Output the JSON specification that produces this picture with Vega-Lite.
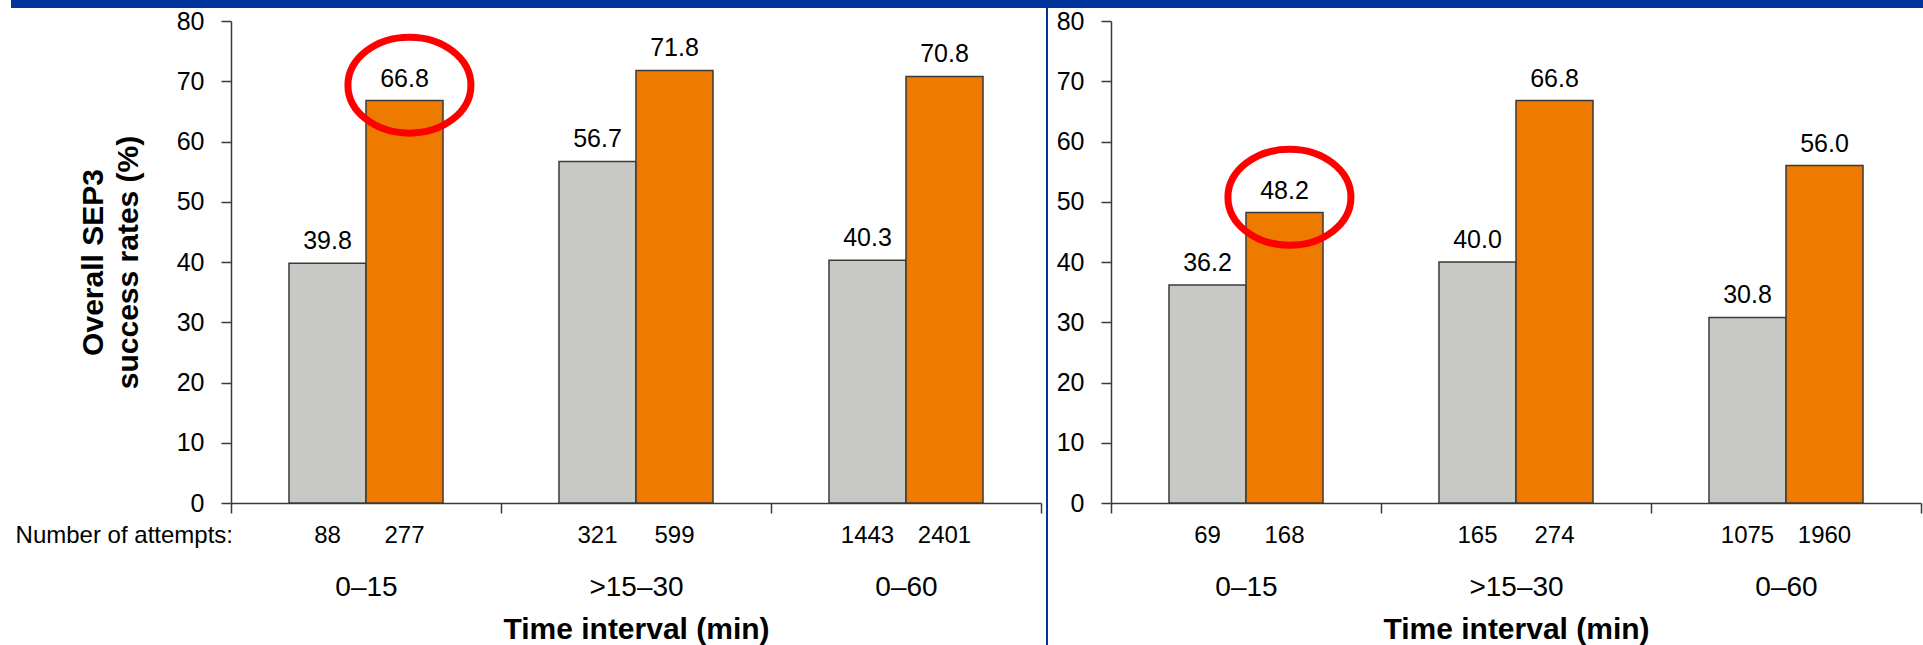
{
  "$schema": "https://vega.github.io/schema/vega-lite/v6.json",
  "background": "white",
  "padding": {"left": 7, "top": 0, "right": 0, "bottom": 0},
  "bounds": "flush",
  "spacing": 70,
  "datasets": {
    "sep3": [
      {"panel": "L", "interval": "0–15", "group": "A", "rate": 39.8, "attempts": 88, "highlight": false},
      {"panel": "L", "interval": "0–15", "group": "B", "rate": 66.8, "attempts": 277, "highlight": true},
      {"panel": "L", "interval": ">15–30", "group": "A", "rate": 56.7, "attempts": 321, "highlight": false},
      {"panel": "L", "interval": ">15–30", "group": "B", "rate": 71.8, "attempts": 599, "highlight": false},
      {"panel": "L", "interval": "0–60", "group": "A", "rate": 40.3, "attempts": 1443, "highlight": false},
      {"panel": "L", "interval": "0–60", "group": "B", "rate": 70.8, "attempts": 2401, "highlight": false},
      {"panel": "R", "interval": "0–15", "group": "A", "rate": 36.2, "attempts": 69, "highlight": false},
      {"panel": "R", "interval": "0–15", "group": "B", "rate": 48.2, "attempts": 168, "highlight": true},
      {"panel": "R", "interval": ">15–30", "group": "A", "rate": 40.0, "attempts": 165, "highlight": false},
      {"panel": "R", "interval": ">15–30", "group": "B", "rate": 66.8, "attempts": 274, "highlight": false},
      {"panel": "R", "interval": "0–60", "group": "A", "rate": 30.8, "attempts": 1075, "highlight": false},
      {"panel": "R", "interval": "0–60", "group": "B", "rate": 56.0, "attempts": 1960, "highlight": false}
    ],
    "rowLabel": [{"label": "Number of attempts:"}]
  },
  "config": {
    "font": "Liberation Sans",
    "view": {"stroke": null},
    "text": {"color": "#000000"},
    "axis": {
      "grid": false,
      "domainColor": "#3a3a3a",
      "tickColor": "#3a3a3a",
      "domainWidth": 1.5,
      "tickWidth": 1.5,
      "tickSize": 10,
      "labelColor": "#000000",
      "titleColor": "#000000",
      "titleFont": "Liberation Sans",
      "titleFontWeight": "bold",
      "titleFontSize": 30
    },
    "axisX": {
      "tickBand": "extent",
      "labelAngle": 0,
      "labelFontSize": 28,
      "labelPadding": 60,
      "titlePadding": 13
    },
    "axisY": {
      "labelFontSize": 25,
      "labelPadding": 17,
      "titlePadding": 33,
      "titleLineHeight": 35
    }
  },
  "hconcat": [
    {
      "width": 810,
      "height": 482,
      "layer": [
        {
          "data": {"name": "sep3"},
          "transform": [{"filter": "datum.panel === 'L'"}],
          "encoding": {
            "x": {
              "field": "interval", "type": "nominal", "sort": null,
              "scale": {"paddingInner": 0, "paddingOuter": 0},
              "axis": {"title": "Time interval (min)"}
            },
            "xOffset": {
              "field": "group", "type": "nominal",
              "scale": {"paddingInner": 0, "paddingOuter": 0.753}
            }
          },
          "layer": [
            {
              "mark": {"type": "bar", "stroke": "#3a3a3a", "strokeWidth": 1.5},
              "encoding": {
                "y": {
                  "field": "rate", "type": "quantitative",
                  "scale": {"domain": [0, 80]},
                  "axis": {"values": [0, 10, 20, 30, 40, 50, 60, 70, 80], "title": ["Overall SEP3", "success rates (%)"]}
                },
                "color": {
                  "field": "group", "type": "nominal",
                  "scale": {"domain": ["A", "B"], "range": ["#c8c9c5", "#ee7b00"]},
                  "legend": null
                }
              }
            },
            {
              "mark": {"type": "text", "baseline": "alphabetic", "dy": -14, "fontSize": 25},
              "encoding": {
                "y": {"field": "rate", "type": "quantitative"},
                "text": {"field": "rate", "type": "quantitative", "format": ".1f"}
              }
            },
            {
              "mark": {"type": "text", "baseline": "middle", "dy": 33, "fontSize": 24},
              "encoding": {
                "y": {"datum": 0},
                "text": {"field": "attempts", "type": "quantitative", "format": "d"}
              }
            },
            {
              "transform": [{"filter": "datum.highlight"}],
              "mark": {
                "type": "point",
                "shape": "M-0.92,-0.25A1,0.78,0,1,1,1.08,-0.25A1,0.78,0,1,1,-0.92,-0.25Z",
                "size": 15129,
                "filled": false,
                "stroke": "#ff0000",
                "strokeWidth": 7,
                "opacity": 1
              },
              "encoding": {
                "y": {"field": "rate", "type": "quantitative"}
              }
            }
          ]
        },
        {
          "data": {"name": "rowLabel"},
          "mark": {"type": "text", "align": "right", "baseline": "middle", "dx": 2, "dy": 33, "fontSize": 24},
          "encoding": {
            "x": {"value": 0},
            "y": {"datum": 0},
            "text": {"field": "label", "type": "nominal"}
          }
        },
        {
          "data": {"values": [{}]},
          "mark": {"type": "rule", "color": "#00349a", "strokeWidth": 8, "xOffset": -220, "x2Offset": 882, "yOffset": -17},
          "encoding": {
            "x": {"value": 0},
            "x2": {"value": "width"},
            "y": {"value": 0}
          }
        },
        {
          "data": {"values": [{}]},
          "mark": {"type": "rule", "color": "#00349a", "strokeWidth": 2, "xOffset": 6, "yOffset": -13, "y2Offset": 142},
          "encoding": {
            "x": {"value": "width"},
            "y": {"value": 0},
            "y2": {"value": "height"}
          }
        }
      ]
    },
    {
      "width": 810,
      "height": 482,
      "data": {"name": "sep3"},
      "transform": [{"filter": "datum.panel === 'R'"}],
      "encoding": {
        "x": {
          "field": "interval", "type": "nominal", "sort": null,
          "scale": {"paddingInner": 0, "paddingOuter": 0},
          "axis": {"title": "Time interval (min)"}
        },
        "xOffset": {
          "field": "group", "type": "nominal",
          "scale": {"paddingInner": 0, "paddingOuter": 0.753}
        }
      },
      "layer": [
        {
          "mark": {"type": "bar", "stroke": "#3a3a3a", "strokeWidth": 1.5},
          "encoding": {
            "y": {
              "field": "rate", "type": "quantitative",
              "scale": {"domain": [0, 80]},
              "axis": {"values": [0, 10, 20, 30, 40, 50, 60, 70, 80], "title": null}
            },
            "color": {
              "field": "group", "type": "nominal",
              "scale": {"domain": ["A", "B"], "range": ["#c8c9c5", "#ee7b00"]},
              "legend": null
            }
          }
        },
        {
          "mark": {"type": "text", "baseline": "alphabetic", "dy": -14, "fontSize": 25},
          "encoding": {
            "y": {"field": "rate", "type": "quantitative"},
            "text": {"field": "rate", "type": "quantitative", "format": ".1f"}
          }
        },
        {
          "mark": {"type": "text", "baseline": "middle", "dy": 33, "fontSize": 24},
          "encoding": {
            "y": {"datum": 0},
            "text": {"field": "attempts", "type": "quantitative", "format": "d"}
          }
        },
        {
          "transform": [{"filter": "datum.highlight"}],
          "mark": {
            "type": "point",
            "shape": "M-0.92,-0.25A1,0.78,0,1,1,1.08,-0.25A1,0.78,0,1,1,-0.92,-0.25Z",
            "size": 15129,
            "filled": false,
            "stroke": "#ff0000",
            "strokeWidth": 7,
            "opacity": 1
          },
          "encoding": {
            "y": {"field": "rate", "type": "quantitative"}
          }
        }
      ]
    }
  ]
}
